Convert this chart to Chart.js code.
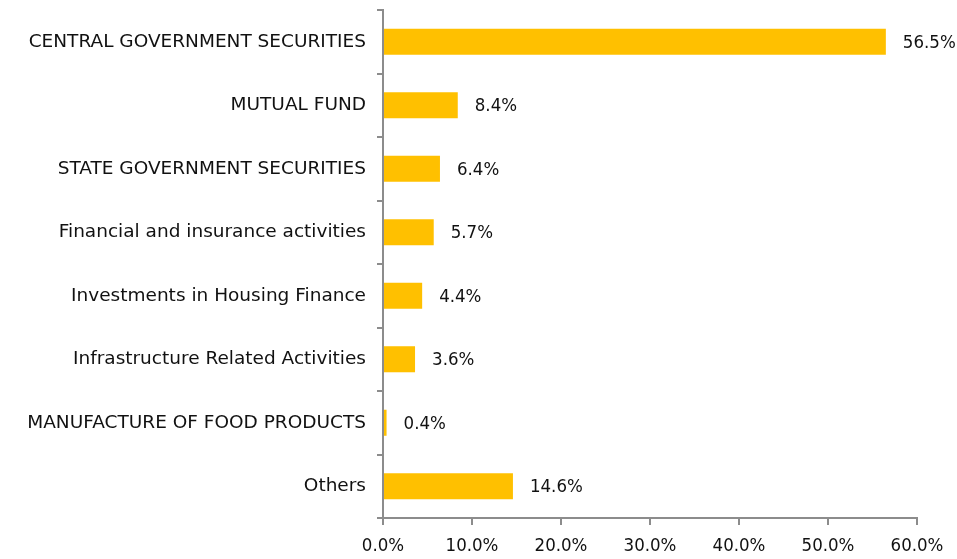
<!DOCTYPE html>
<html>
<head>
<meta charset="utf-8">
<script src="https://cdn.jsdelivr.net/npm/chart.js@4"></script>
<style>
  html, body { margin: 0; padding: 0; background: #fff; }
  #wrap { width: 957px; height: 559px; }
</style>
</head>
<body>
<div id="wrap"><canvas id="sectorChart"></canvas></div>
<script>
const categories = [
  "CENTRAL GOVERNMENT SECURITIES",
  "MUTUAL FUND",
  "STATE GOVERNMENT SECURITIES",
  "Financial and insurance activities",
  "Investments in Housing Finance",
  "Infrastructure Related Activities",
  "MANUFACTURE OF FOOD PRODUCTS",
  "Others"
];
const shares = [56.5, 8.4, 6.4, 5.7, 4.4, 3.6, 0.4, 14.6];
const xTicks = [0, 10, 20, 30, 40, 50, 60];

const LABEL_FONT = "'DejaVu Sans', sans-serif";
const NUM_FONT = "'DejaVu Sans Condensed', 'DejaVu Sans', sans-serif";
const AXIS = "#8c8c8c";

// value labels to the right of each bar
const barLabels = {
  id: "barLabels",
  afterDatasetsDraw(chart) {
    const ctx = chart.ctx;
    const meta = chart.getDatasetMeta(0);
    ctx.save();
    ctx.font = "18.5px " + NUM_FONT;
    ctx.fillStyle = "#111";
    ctx.textAlign = "left";
    ctx.textBaseline = "middle";
    meta.data.forEach((bar, i) => {
      ctx.fillText(shares[i].toFixed(1) + "%", bar.x + 17, bar.y + 1);
    });
    ctx.restore();
  }
};

new Chart(document.getElementById("sectorChart"), {
  type: "bar",
  data: {
    labels: categories,
    datasets: [
      {
        data: shares,
        backgroundColor: "#FFC000",
        barPercentage: 0.82,
        categoryPercentage: 0.5
      }
    ]
  },
  options: {
    indexAxis: "y",
    responsive: true,
    maintainAspectRatio: false,
    animation: false,
    layout: { padding: { top: 10, right: 40, left: 0, bottom: 0 } },
    plugins: { legend: { display: false }, tooltip: { enabled: false } },
    scales: {
      x: {
        min: 0,
        max: 60,
        afterBuildTicks(scale) {
          scale.ticks = xTicks.map((v) => ({ value: v }));
        },
        afterFit(scale) { scale.height = 41; },
        border: { display: true, color: AXIS, width: 2 },
        grid: { drawOnChartArea: false, drawTicks: true, tickLength: 7, color: AXIS, lineWidth: 2 },
        ticks: {
          color: "#111",
          font: { family: NUM_FONT, size: 18.5 },
          padding: 10,
          maxRotation: 0,
          callback: (v) => Number(v).toFixed(1) + "%"
        }
      },
      y: {
        afterFit(scale) {
          scale.width = 383;
          scale.paddingTop = 0;
          scale.paddingBottom = 0;
        },
        border: { display: true, color: AXIS, width: 2 },
        grid: { drawOnChartArea: false, drawTicks: true, tickLength: 6, color: AXIS, lineWidth: 2, offset: true },
        ticks: {
          color: "#111",
          font: { family: LABEL_FONT, size: 18.5 },
          padding: 11
        }
      }
    }
  },
  plugins: [barLabels]
});
</script>
</body>
</html>
